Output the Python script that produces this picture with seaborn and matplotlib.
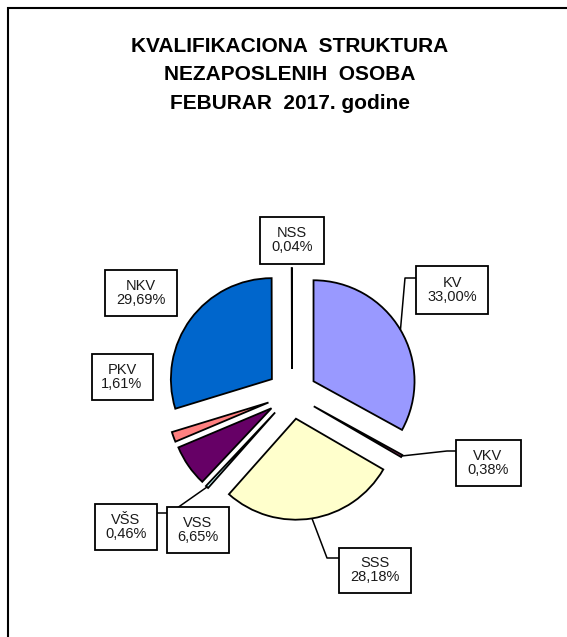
import numpy as np
import matplotlib
matplotlib.use("Agg")
import matplotlib.pyplot as plt
from matplotlib.patches import Rectangle
import seaborn as sns

# Kvalifikaciona struktura, februar 2017 (udio u %)
categories = ["KV", "VKV", "SSS", "VŠS", "VSS", "PKV", "NKV", "NSS"]
shares = [33.00, 0.38, 28.18, 0.46, 6.65, 1.61, 29.69, 0.04]
share_labels = ["33,00%", "0,38%", "28,18%", "0,46%", "6,65%", "1,61%", "29,69%", "0,04%"]
colors = ["#9999FF", "#993366", "#FFFFCC", "#CCFFFF", "#660066", "#FF8080", "#0066CC", "#CCCCFF"]
title = "KVALIFIKACIONA  STRUKTURA\nNEZAPOSLENIH  OSOBA\nFEBURAR  2017. godine"

W, H = 567, 637

sns.set_style("white")
plt.rcParams["font.family"] = ["Liberation Sans", "DejaVu Sans"]

fig = plt.figure(figsize=(W / 100, H / 100), dpi=100)
ax = fig.add_axes([0, 0, 1, 1])

# pixel-like layout coordinates (y measured from the top of the picture)
def py(y):
    return H - y

center = (292, py(394))
radius = 101
explode_px = 25

wedges, _ = ax.pie(shares, colors=colors, startangle=90, counterclock=False,
                   radius=radius, center=center, explode=[explode_px] * len(shares),
                   wedgeprops=dict(edgecolor="black", linewidth=1.3))
ax.set_xlim(0, W)
ax.set_ylim(0, H)
ax.set_aspect("equal")
ax.axis("off")

# label boxes: (cx, cy, w, h) in picture pixels
boxes = {
    "KV": (452, 290, 72, 48),
    "VKV": (488, 463, 65, 46),
    "SSS": (375, 570, 72, 45),
    "VŠS": (126, 527, 62, 46),
    "VSS": (198, 530, 62, 46),
    "PKV": (122, 377, 61, 46),
    "NKV": (141, 293, 72, 46),
    "NSS": (292, 240, 64, 47),
}

# leader lines from slice mid-arc through an elbow to the box
elbows = {
    "KV": [(405, 278), (416, 278)],
    "VKV": [(447, 451), (456, 451)],
    "SSS": [(327, 558), (339, 558)],
    "VŠS": [(170, 513), (157, 513)],
}

for w, name in zip(wedges, categories):
    if name not in elbows:
        continue
    thm = np.deg2rad((w.theta1 + w.theta2) / 2)
    cx, cy = w.center
    ax0 = cx + w.r * np.cos(thm)
    ay0 = cy + w.r * np.sin(thm)
    xs = [ax0] + [p[0] for p in elbows[name]]
    ys = [ay0] + [py(p[1]) for p in elbows[name]]
    ax.plot(xs, ys, color="black", lw=1.1, zorder=3, solid_capstyle="butt")

for name, lab in zip(categories, share_labels):
    bx, by, bw, bh = boxes[name]
    ax.add_patch(Rectangle((bx - bw / 2, py(by) - bh / 2), bw, bh, facecolor="white",
                           edgecolor="black", lw=1.3, zorder=4))
    ax.text(bx, py(by), f"{name}\n{lab}", ha="center", va="center", fontsize=10.5,
            color="#1a1a1a", linespacing=1.05, zorder=5)

# chart frame (only left and top edges fall inside the picture)
ax.add_patch(Rectangle((8, -20), 700, py(8) + 20, facecolor="none", edgecolor="black",
                       lw=1.5, zorder=1))

ax.text(290, py(75), title, ha="center", va="center", fontsize=15, fontweight="bold",
        linespacing=1.62, color="black")

fig.savefig("out.png", dpi=100)
